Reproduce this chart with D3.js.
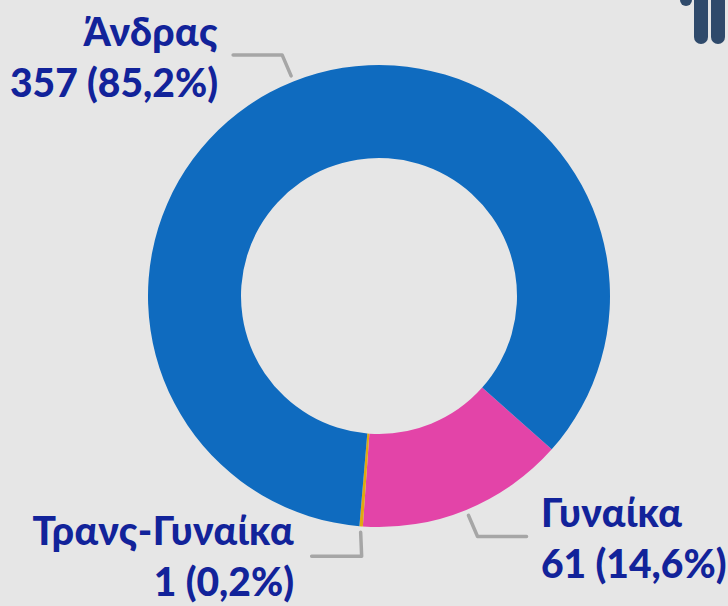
<!DOCTYPE html>
<html>
<head>
<meta charset="utf-8">
<script src="https://cdn.jsdelivr.net/npm/d3@7"></script>
<style>
  html, body { margin: 0; padding: 0; background: #e6e6e6; }
  svg { display: block; }
</style>
</head>
<body>
<svg id="chart" width="728" height="606" viewBox="0 0 728 606"></svg>
<script>
const categories = ["Γυναίκα", "Τρανς-Γυναίκα", "Άνδρας"];
const counts = [61, 1, 357];
const shares = ["14,6%", "0,2%", "85,2%"];
const colors = ["#e344a8", "#e0a810", "#0f6bbf"];

const width = 728, height = 606;
const cx = 379, cy = 296;
const outerR = 231, innerR = 138;
const firstAngle = 131.6 * Math.PI / 180;

const svg = d3.select("#chart");

// cut-off person icon in the top right corner
const icon = svg.append("g").attr("fill", "#2f4a6b");
icon.append("rect").attr("x", 680).attr("y", -20).attr("width", 12).attr("height", 26).attr("rx", 6);
icon.append("rect").attr("x", 694).attr("y", -20).attr("width", 14).attr("height", 64).attr("rx", 7);
icon.append("rect").attr("x", 711).attr("y", -20).attr("width", 14).attr("height", 64).attr("rx", 7);

const pie = d3.pie().sort(null).value(d => d)
  .startAngle(firstAngle).endAngle(firstAngle + 2 * Math.PI);
const arcs = pie(counts);
const arc = d3.arc().innerRadius(innerR).outerRadius(outerR);

const plot = svg.append("g").attr("transform", `translate(${cx},${cy})`);
plot.selectAll("path")
  .data(arcs)
  .join("path")
  .attr("d", arc)
  .attr("fill", (d, i) => colors[i]);

// label layout per slice: elbow and line end relative to the anchor on the ring
const labelLayout = [
  { elbow: [9, 21], end: [58, 21], x: 541, anchor: "start", y: 527 },
  { elbow: [1, 24], end: [-49, 24], x: 294, anchor: "end", y: 545 },
  { elbow: [-9, -21], end: [-58, -21], x: 218, anchor: "end", y: 46 }
];

const leaderR = outerR + 6;
arcs.forEach((d, i) => {
  const mid = (d.startAngle + d.endAngle) / 2;
  const ax = cx + leaderR * Math.sin(mid);
  const ay = cy - leaderR * Math.cos(mid);
  const l = labelLayout[i];
  svg.append("path")
    .attr("d", d3.line()([[ax, ay], [ax + l.elbow[0], ay + l.elbow[1]], [ax + l.end[0], ay + l.end[1]]]))
    .attr("fill", "none")
    .attr("stroke", "#a6a6a6")
    .attr("stroke-width", 3.5)
    .attr("stroke-linecap", "round")
    .attr("stroke-linejoin", "round");

  const label = svg.append("text")
    .attr("x", l.x)
    .attr("y", l.y)
    .attr("text-anchor", l.anchor)
    .attr("fill", "#12239a")
    .style("font-family", "Lato, 'Open Sans', sans-serif")
    .style("font-weight", 900)
    .style("font-size", "39px");
  label.append("tspan").attr("x", l.x).style("letter-spacing", "0.4px").text(categories[i]);
  label.append("tspan").attr("x", l.x).attr("dy", 51).text(`${counts[i]} (${shares[i]})`);
});
</script>
</body>
</html>
